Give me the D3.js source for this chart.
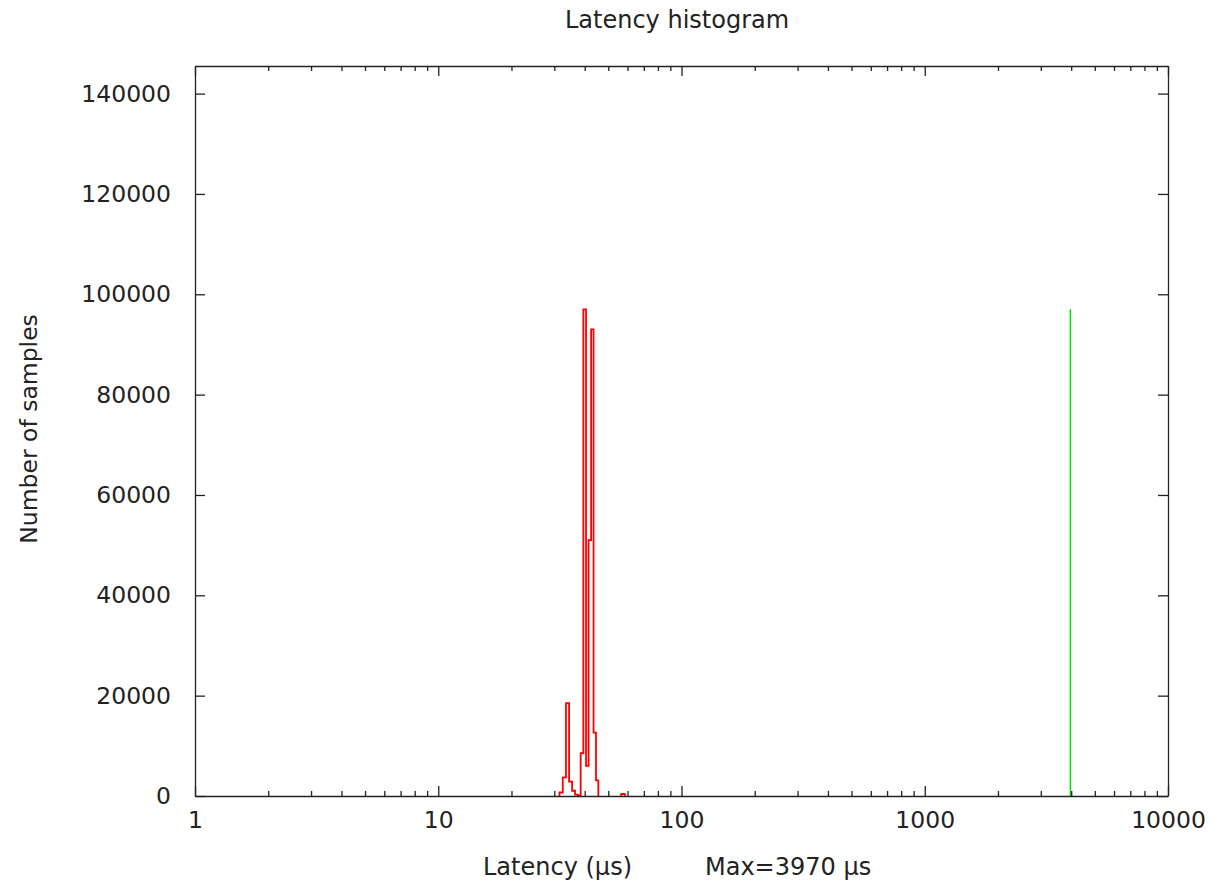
<!DOCTYPE html>
<html>
<head>
<meta charset="utf-8">
<script src="https://cdn.jsdelivr.net/npm/d3@7"></script>
<style>
  html, body { margin: 0; padding: 0; background: #fff; }
  svg { display: block; font-family: "DejaVu Sans", sans-serif; }
  .axis path, .axis line { stroke: #222; stroke-width: 1.3; }
  .axis text { fill: #222; font-size: 23.5px; font-family: "DejaVu Sans", sans-serif; }
  .lbl { fill: #222; font-size: 23.5px; }
</style>
</head>
<body>
<div id="chart"></div>
<script>
// histogram bins (µs) and sample counts, one bin per microsecond
const latencyBins = [32, 33, 34, 35, 36, 37, 38, 39, 40, 41, 42, 43, 44, 45, 46, 47, 48, 49, 50, 51, 52, 53, 54, 55, 56, 57, 58];
const sampleCounts = [700, 3700, 18500, 2850, 1050, 260, 80, 8550, 97000, 6000, 51000, 93000, 12650, 3100, 0, 0, 0, 0, 0, 0, 0, 0, 0, 0, 0, 400, 400];
const maxLatency = 3970;

const xMajorTicks = [1, 10, 100, 1000, 10000];
const yTicks = [0, 20000, 40000, 60000, 80000, 100000, 120000, 140000];

const width = 1213;
const height = 881;
const margin = { top: 66, right: 45, bottom: 85, left: 195 };

const svg = d3.select('#chart')
  .append('svg')
  .attr('width', width)
  .attr('height', height);

const x = d3.scaleLog()
  .domain([1, 10000])
  .range([margin.left, width - margin.right]);

// gnuplot script leaves headroom: y max = 1.5 * peak
const yMax = d3.max(sampleCounts) * 1.5;
const y = d3.scaleLinear()
  .domain([0, yMax])
  .range([height - margin.bottom, margin.top]);

// minor ticks 2..9 in each decade
const xMinorTicks = [];
xMajorTicks.slice(0, -1).forEach(d => {
  for (let k = 2; k <= 9; k++) xMinorTicks.push(d * k);
});

// split bins into runs of non-zero counts and draw them as histeps
const runs = [];
let cur = null;
latencyBins.forEach((b, i) => {
  if (sampleCounts[i] > 0) {
    if (!cur) { cur = []; runs.push(cur); }
    cur.push([b, sampleCounts[i]]);
  } else {
    cur = null;
  }
});

const line = d3.line().x(d => x(d[0])).y(d => y(d[1]));
runs.forEach(run => {
  const pts = [[run[0][0] - 0.5, 0]];
  run.forEach(([b, c]) => {
    pts.push([b - 0.5, c]);
    pts.push([b + 0.5, c]);
  });
  pts.push([run[run.length - 1][0] + 0.5, 0]);
  svg.append('path')
    .attr('d', line(pts))
    .attr('fill', 'none')
    .attr('stroke', '#ff0000')
    .attr('stroke-width', 1.8);
});

// max latency marker
svg.append('line')
  .attr('x1', x(maxLatency))
  .attr('x2', x(maxLatency))
  .attr('y1', y(0))
  .attr('y2', y(d3.max(sampleCounts)))
  .attr('stroke', '#00e000')
  .attr('stroke-width', 1.5);

// axes (ticks point inwards, mirrored on top / right)
const plotBottom = height - margin.bottom;
const plotRight = width - margin.right;

svg.append('g')
  .attr('class', 'axis')
  .attr('transform', `translate(0,${plotBottom})`)
  .call(d3.axisBottom(x).tickValues(xMajorTicks).tickFormat(d3.format('d'))
    .tickSizeInner(-10).tickSizeOuter(0).tickPadding(15));
svg.append('g')
  .attr('class', 'axis')
  .attr('transform', `translate(0,${plotBottom})`)
  .call(d3.axisBottom(x).tickValues(xMinorTicks).tickFormat('')
    .tickSizeInner(-5).tickSizeOuter(0))
  .select('.domain').remove();

svg.append('g')
  .attr('class', 'axis')
  .attr('transform', `translate(0,${margin.top})`)
  .call(d3.axisTop(x).tickValues(xMajorTicks).tickFormat('')
    .tickSizeInner(-10).tickSizeOuter(0));
svg.append('g')
  .attr('class', 'axis')
  .attr('transform', `translate(0,${margin.top})`)
  .call(d3.axisTop(x).tickValues(xMinorTicks).tickFormat('')
    .tickSizeInner(-5).tickSizeOuter(0))
  .select('.domain').remove();

svg.append('g')
  .attr('class', 'axis')
  .attr('transform', `translate(${margin.left},0)`)
  .call(d3.axisLeft(y).tickValues(yTicks).tickFormat(d3.format('d'))
    .tickSizeInner(-10).tickSizeOuter(0).tickPadding(24));

svg.append('g')
  .attr('class', 'axis')
  .attr('transform', `translate(${plotRight},0)`)
  .call(d3.axisRight(y).tickValues(yTicks).tickFormat('')
    .tickSizeInner(-10).tickSizeOuter(0));

// texts
svg.append('text')
  .attr('class', 'lbl')
  .attr('x', 677)
  .attr('y', 28)
  .attr('text-anchor', 'middle')
  .style('font-size', '24px')
  .text('Latency histogram');

svg.append('text')
  .attr('class', 'lbl')
  .attr('transform', 'translate(37,429) rotate(-90)')
  .attr('text-anchor', 'middle')
  .text('Number of samples');

svg.append('text')
  .attr('class', 'lbl')
  .attr('x', 632)
  .attr('y', 875)
  .attr('text-anchor', 'end')
  .style('font-size', '24px')
  .text('Latency (µs)');

svg.append('text')
  .attr('class', 'lbl')
  .attr('x', 705)
  .attr('y', 875)
  .attr('text-anchor', 'start')
  .style('font-size', '24px')
  .text(`Max=${maxLatency} µs`);
</script>
</body>
</html>
